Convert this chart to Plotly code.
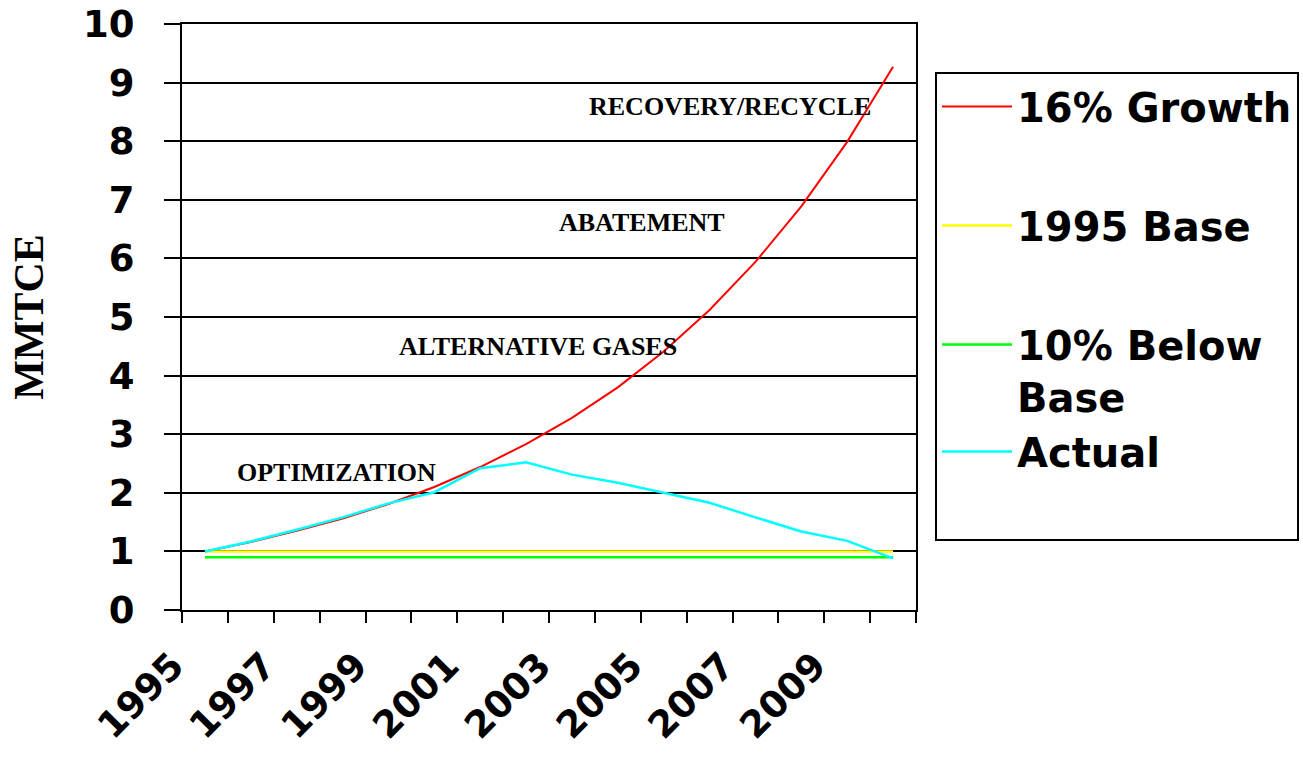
import plotly.graph_objects as go

years = [1995, 1996, 1997, 1998, 1999, 2000, 2001, 2002, 2003, 2004, 2005, 2006, 2007, 2008, 2009, 2010]
growth16 = [1.00, 1.16, 1.35, 1.56, 1.81, 2.10, 2.44, 2.83, 3.28, 3.80, 4.41, 5.12, 5.94, 6.89, 7.99, 9.27]
base1995 = [1.0, 1.0, 1.0, 1.0, 1.0, 1.0, 1.0, 1.0, 1.0, 1.0, 1.0, 1.0, 1.0, 1.0, 1.0, 1.0]
below10 = [0.9, 0.9, 0.9, 0.9, 0.9, 0.9, 0.9, 0.9, 0.9, 0.9, 0.9, 0.9, 0.9, 0.9, 0.9, 0.9]
actual = [1.00, 1.17, 1.37, 1.58, 1.82, 2.01, 2.42, 2.52, 2.31, 2.17, 2.00, 1.83, 1.58, 1.34, 1.18, 0.88]
series_names = ["16% Growth", "1995 Base", "10% Below<br>Base", "Actual"]
label_years = [1995, 1997, 1999, 2001, 2003, 2005, 2007, 2009]
strategies = ["RECOVERY/RECYCLE", "ABATEMENT", "ALTERNATIVE GASES", "OPTIMIZATION"]

TICKFONT = dict(family="DejaVu Sans", size=37, color="black", weight="bold")

fig = go.Figure()
styles = [("#FF0000", 2), ("#FFFF00", 2.5), ("#00FF00", 2.5), ("#00FFFF", 2.5)]
groups = ["g0", "g1", "g2", "g2"]
for i, (vals, name) in enumerate(zip([growth16, base1995, below10, actual], series_names)):
    color, w = styles[i]
    fig.add_trace(go.Scatter(x=years, y=vals, mode="lines", name=name,
                             line=dict(color=color, width=w),
                             legendgroup=groups[i]))
# invisible spacer entry so the legend box keeps the reference's blank bottom area
fig.add_trace(go.Scatter(x=[None], y=[None], mode="lines", name=" ",
                         line=dict(color="rgba(0,0,0,0)", width=0),
                         legendgroup="g2", hoverinfo="skip"))

ann_pos = [(2006.45, 8.6), (2004.53, 6.62), (2002.26, 4.49), (1997.86, 2.34)]
for txt, (ax, ay) in zip(strategies, ann_pos):
    fig.add_annotation(x=ax, y=ay, text=txt, showarrow=False,
                       font=dict(family="Liberation Serif", size=26, color="black", weight="bold"))

fig.update_layout(
    width=1303, height=768,
    margin=dict(l=182, r=387, t=24, b=158),
    paper_bgcolor="white", plot_bgcolor="white",
    showlegend=True,
    legend=dict(xref="container", yref="container", x=0.7176, y=0.9063,
                xanchor="left", yanchor="top", maxheight=650,
                bordercolor="black", borderwidth=2,
                font=dict(family="DejaVu Sans", size=40, color="black", weight="bold"),
                tracegroupgap=64, valign="top", itemwidth=70),
    xaxis=dict(range=[1994.5, 2010.5], tickmode="array", tickvals=label_years,
               ticks="", tickangle=-45, tickfont=TICKFONT, automargin=False,
               ticklabeloverflow="allow", ticklabelshift=-32,
               showgrid=False, zeroline=False,
               showline=True, linecolor="black", linewidth=2, mirror=True,
               ticklabelstandoff=17,
               minor=dict(ticks="outside", tick0=1994.5, dtick=1, ticklen=11,
                          tickcolor="black", tickwidth=1.5, showgrid=False)),
    yaxis=dict(range=[0, 10.001], tickmode="array", tickvals=[0, 1, 2, 3, 4, 5, 6, 7, 8, 9, 10],
               tickfont=TICKFONT, automargin=False, ticklabeloverflow="allow",
               ticks="outside", ticklen=16, tickcolor="black", tickwidth=1.5,
               showgrid=True, gridcolor="black", gridwidth=1.5, zeroline=False,
               showline=True, linecolor="black", linewidth=2, mirror=True,
               ticklabelstandoff=22,
               title=dict(text="MMTCE", standoff=26,
                          font=dict(family="Liberation Serif", size=42, color="black", weight="bold"))),
)

fig.write_html("out.html", config={"displayModeBar": False},
               post_script="document.body.style.margin='0';")
